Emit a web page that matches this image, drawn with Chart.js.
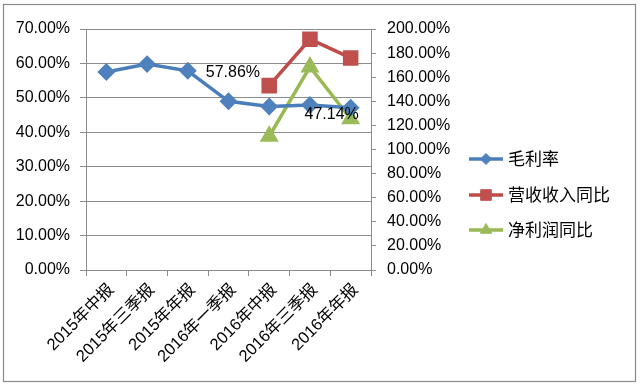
<!DOCTYPE html>
<html>
<head>
<meta charset="utf-8">
<script src="https://cdn.jsdelivr.net/npm/chart.js@4.4.1/dist/chart.umd.min.js"></script>
<style>
html,body{margin:0;padding:0;background:#fff;}
#wrap{width:640px;height:388px;position:relative;}
</style>
</head>
<body>
<div id="wrap"><canvas id="c" width="640" height="388"></canvas></div>
<script>
const categories = ['2015年中报','2015年三季报','2015年年报','2016年一季报','2016年中报','2016年三季报','2016年年报'];
const grossMargin = [57.5, 59.8, 57.86, 49.0, 47.5, 47.9, 47.14];
const revenueYoY = [null, null, null, null, 153.0, 191.5, 176.0];
const netProfitYoY = [null, null, null, null, 111.0, 168.5, 125.5];
const seriesNames = ['毛利率', '营收收入同比', '净利润同比'];
const leftTicks = [0, 10, 20, 30, 40, 50, 60, 70];
const rightTicks = [0, 20, 40, 60, 80, 100, 120, 140, 160, 180, 200];
const labeledPoints = [2, 6];

const NUM_FONT = "'Liberation Sans', 'Noto Sans CJK SC', sans-serif";
const CJK_FONT = "'Noto Sans CJK SC', 'Liberation Sans', sans-serif";
const GRID = '#8c8c8c';
const pct = v => Number(v).toFixed(2) + '%';

const borderPlugin = {
  id: 'outerBorder',
  beforeDraw(chart) {
    const ctx = chart.ctx;
    ctx.save();
    ctx.fillStyle = '#fff';
    ctx.fillRect(0, 0, chart.width, chart.height);
    ctx.strokeStyle = '#8a8a8a';
    ctx.lineWidth = 1.2;
    ctx.strokeRect(3.5, 4.5, 632, 377);
    ctx.restore();
  }
};

const dataLabelPlugin = {
  id: 'dataLabels',
  afterDatasetsDraw(chart) {
    const ctx = chart.ctx;
    const meta = chart.getDatasetMeta(0);
    const ds = chart.data.datasets[0];
    ctx.save();
    ctx.font = '16px ' + NUM_FONT;
    ctx.fillStyle = '#000';
    ctx.textBaseline = 'middle';
    labeledPoints.forEach((i, k) => {
      const el = meta.data[i];
      const txt = pct(ds.data[i]);
      if (k === 0) {
        ctx.textAlign = 'left';
        ctx.fillText(txt, el.x + 18, el.y + 2);
      } else {
        ctx.textAlign = 'center';
        ctx.fillText(txt, el.x - 19, el.y + 7);
      }
    });
    ctx.restore();
  }
};

const legendPlugin = {
  id: 'customLegend',
  afterDraw(chart) {
    const ctx = chart.ctx;
    const x0 = 469, x1 = 503, tx = 508;
    const ys = [159, 195, 230];
    ctx.save();
    chart.data.datasets.forEach((ds, i) => {
      const y = ys[i];
      ctx.strokeStyle = ds.borderColor;
      ctx.lineWidth = 3.5;
      ctx.beginPath();
      ctx.moveTo(x0, y);
      ctx.lineTo(x1, y);
      ctx.stroke();
      ctx.fillStyle = ds.pointBackgroundColor;
      ctx.strokeStyle = ds.pointBackgroundColor;
      ctx.lineWidth = 1;
      Chart.helpers.drawPoint(ctx, {pointStyle: ds.pointStyle, radius: ds.pointRadius - 1, borderWidth: 1}, (x0 + x1) / 2, y);
      ctx.fillStyle = '#000';
      ctx.font = '17px ' + CJK_FONT;
      ctx.textAlign = 'left';
      ctx.textBaseline = 'middle';
      ctx.fillText(ds.label, tx, y);
    });
    ctx.restore();
  }
};

new Chart(document.getElementById('c'), {
  type: 'line',
  data: {
    labels: categories,
    datasets: [
      {
        label: seriesNames[0], data: grossMargin, yAxisID: 'y',
        borderColor: '#4A7EBB', backgroundColor: '#4F81BD',
        pointBackgroundColor: '#4F81BD', pointBorderColor: '#4F81BD',
        pointStyle: 'rectRot', pointRadius: 6.5, borderWidth: 3.5, tension: 0
      },
      {
        label: seriesNames[1], data: revenueYoY, yAxisID: 'y1',
        borderColor: '#BE4B48', backgroundColor: '#C0504D',
        pointBackgroundColor: '#C0504D', pointBorderColor: '#C0504D',
        pointStyle: 'rect', pointRadius: 8.5, borderWidth: 3.5, tension: 0
      },
      {
        label: seriesNames[2], data: netProfitYoY, yAxisID: 'y1',
        borderColor: '#98B954', backgroundColor: '#9BBB59',
        pointBackgroundColor: '#9BBB59', pointBorderColor: '#9BBB59',
        pointStyle: 'triangle', pointRadius: 7.5, borderWidth: 3.5, tension: 0
      }
    ]
  },
  options: {
    responsive: false,
    animation: false,
    layout: { padding: { left: 0, right: 0, top: 29, bottom: 0 } },
    plugins: { legend: { display: false }, tooltip: { enabled: false } },
    scales: {
      x: {
        offset: true,
        afterFit: s => { s.height = 118; },
        grid: { offset: true, drawOnChartArea: false, color: GRID, tickLength: 6 },
        border: { color: GRID },
        ticks: { minRotation: 45, maxRotation: 45, autoSkip: false, color: '#000', padding: 4,
                 labelOffset: 5, font: { size: 16.5, family: NUM_FONT } }
      },
      y: {
        position: 'left', min: leftTicks[0], max: leftTicks[leftTicks.length - 1],
        afterFit: s => { s.width = 86; },
        afterBuildTicks: s => { s.ticks = leftTicks.map(v => ({ value: v })); },
        grid: { color: GRID, tickLength: 6 },
        border: { color: GRID },
        ticks: { color: '#000', padding: 10, callback: pct, font: { size: 16, family: NUM_FONT } }
      },
      y1: {
        position: 'right', min: rightTicks[0], max: rightTicks[rightTicks.length - 1],
        afterFit: s => { s.width = 269; },
        afterBuildTicks: s => { s.ticks = rightTicks.map(v => ({ value: v })); },
        grid: { drawOnChartArea: false, color: GRID, tickLength: 5 },
        border: { color: GRID },
        ticks: { color: '#000', padding: 11, callback: pct, font: { size: 16, family: NUM_FONT } }
      }
    }
  },
  plugins: [borderPlugin, dataLabelPlugin, legendPlugin]
});
</script>
</body>
</html>
